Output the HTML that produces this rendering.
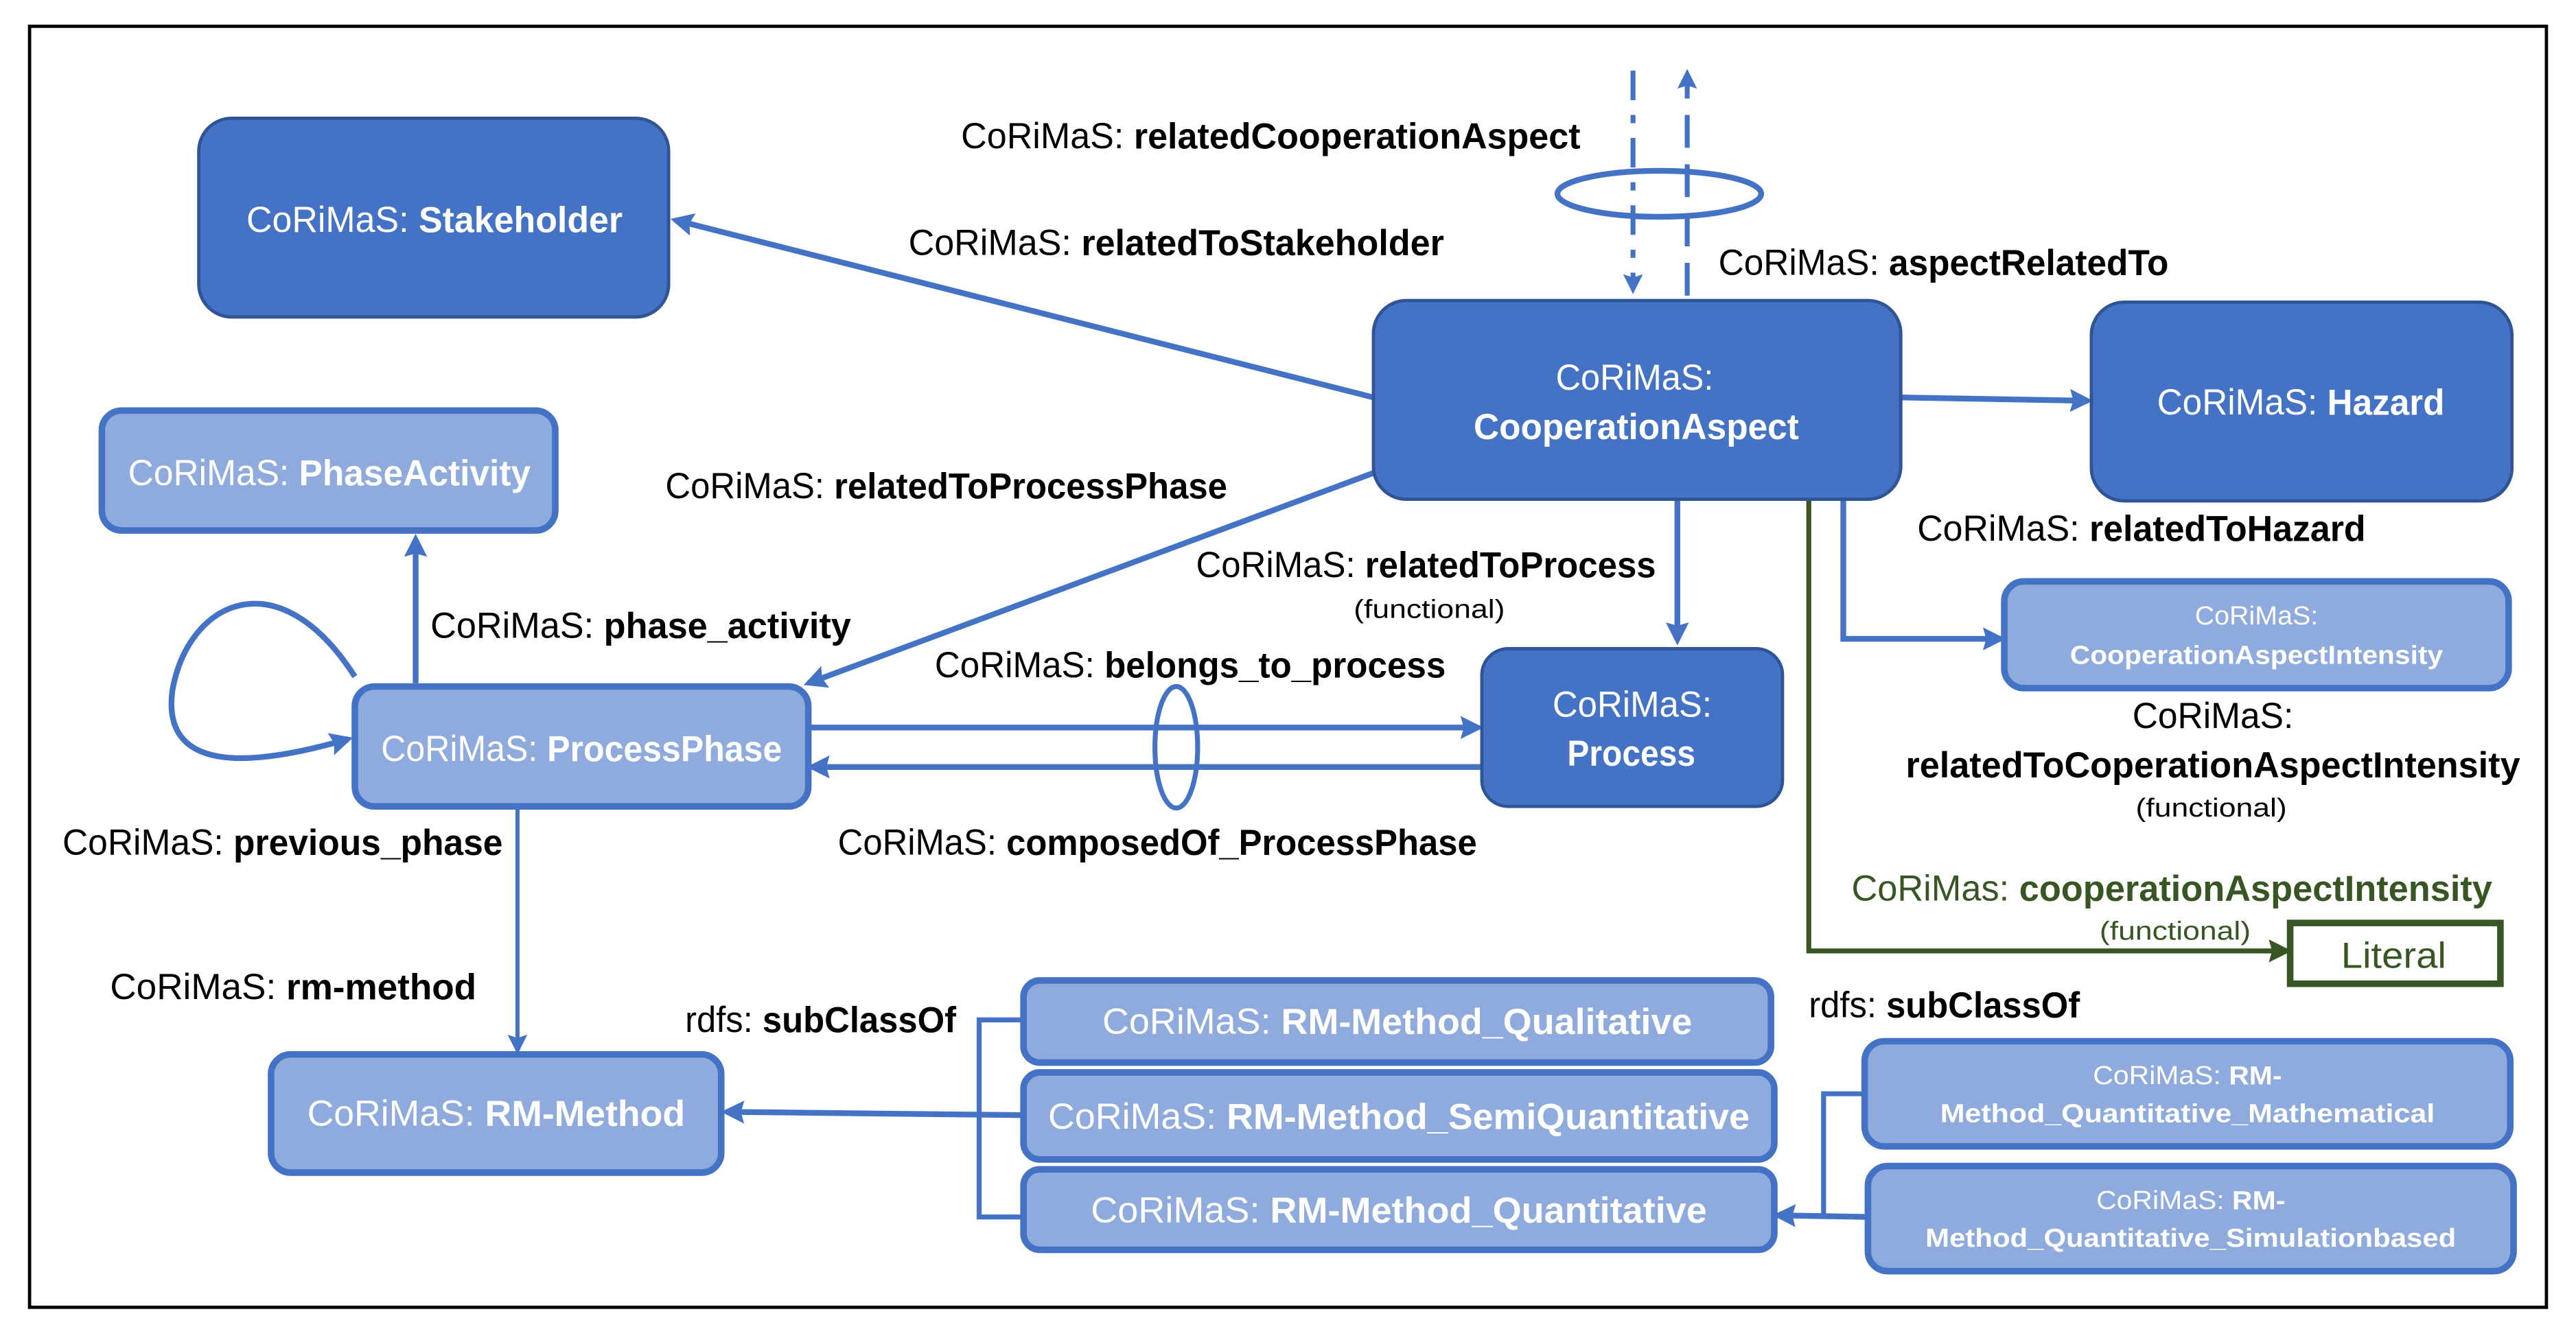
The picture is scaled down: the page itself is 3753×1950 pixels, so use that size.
<!DOCTYPE html>
<html><head><meta charset="utf-8"><style>
html,body{margin:0;padding:0;background:#fff}
svg{display:block}
text{font-family:"Liberation Sans",sans-serif;dominant-baseline:central}
.w{fill:#fff}
.k{fill:#000}
.b{font-weight:bold}
</style></head><body>
<svg width="3753" height="1950" viewBox="0 0 1568 814.7" preserveAspectRatio="none" xmlns="http://www.w3.org/2000/svg">
<defs>
<marker id="a" markerWidth="12" markerHeight="12" refX="9" refY="6" orient="auto" markerUnits="userSpaceOnUse" viewBox="0 0 12 12"><path d="M0,0 L12,6 L0,12 L2,6 z" fill="#4472C4"/></marker>
<marker id="a2" markerWidth="14" markerHeight="14" refX="11" refY="7" orient="auto" markerUnits="userSpaceOnUse" viewBox="0 0 14 14"><path d="M0,0 L14,7 L0,14 L2,7 z" fill="#4472C4"/></marker>
<marker id="g" markerWidth="14" markerHeight="14" refX="11" refY="7" orient="auto" markerUnits="userSpaceOnUse" viewBox="0 0 14 14"><path d="M0,0 L14,7 L0,14 L2,7 z" fill="#375623"/></marker>
</defs>
<rect x="0" y="0" width="1568" height="815" fill="#fff"/>
<rect x="18" y="16" width="1532" height="780" fill="none" stroke="#000" stroke-width="2"/>

<g stroke="#4472C4" stroke-width="3.5" fill="none">
<line x1="836" y1="242" x2="411" y2="134" marker-end="url(#a2)"/>
<line x1="836" y1="288" x2="492" y2="416" marker-end="url(#a2)"/>
<line x1="1157" y1="242" x2="1271" y2="244" marker-end="url(#a2)"/>
<line x1="1021" y1="305" x2="1021" y2="390" marker-end="url(#a2)"/>
<polyline points="1122,305 1122,389 1218,389" marker-end="url(#a2)"/>
<line x1="253" y1="416" x2="253" y2="328" marker-end="url(#a2)"/>
<path d="M216,412 C170,340 115,365 105,420 C98,470 150,468 212,450" marker-end="url(#a2)"/>
<line x1="492" y1="443" x2="900" y2="443" marker-end="url(#a2)"/>
<line x1="902" y1="467" x2="494" y2="467" marker-end="url(#a2)"/>
<ellipse cx="716" cy="455" rx="13" ry="37" stroke-width="3"/>
<line x1="315" y1="491" x2="315" y2="639" stroke-width="2.5" marker-end="url(#a)"/>
<line x1="623" y1="679" x2="442" y2="677" marker-end="url(#a2)"/>
<polyline points="623,621 596,621 596,741 623,741" stroke-width="3"/>
<polyline points="1135,666 1110,666 1110,741" stroke-width="3"/>
<line x1="1137" y1="741" x2="1082" y2="740" marker-end="url(#a2)"/>
<line x1="994" y1="43" x2="994" y2="176" stroke-width="3" stroke-dasharray="18,9,5,9" marker-end="url(#a)"/>
<line x1="1027" y1="180" x2="1027" y2="45" stroke-width="3" stroke-dasharray="20,10" marker-end="url(#a)"/>
<ellipse cx="1010" cy="118" rx="62" ry="14" stroke-width="3.5"/>
</g>
<polyline points="1101,305 1101,579 1392,579" fill="none" stroke="#375623" stroke-width="3" marker-end="url(#g)"/>

<g fill="#4472C4" stroke="#2F5597" stroke-width="2">
<rect x="121" y="72" width="286" height="121" rx="20"/>
<rect x="836" y="183" width="321" height="121" rx="20"/>
<rect x="1273" y="184" width="256" height="121" rx="20"/>
<rect x="902" y="395" width="183" height="96" rx="16"/>
</g>
<g fill="#8FAADC" stroke="#4472C4" stroke-width="4">
<rect x="62" y="250" width="276" height="73" rx="12"/>
<rect x="216" y="418" width="276" height="73" rx="12"/>
<rect x="1220" y="354" width="307" height="65" rx="12"/>
<rect x="165" y="642" width="274" height="72" rx="12"/>
<rect x="623" y="597" width="455" height="50" rx="10"/>
<rect x="623" y="653" width="457" height="53" rx="10"/>
<rect x="623" y="712" width="457" height="49" rx="10"/>
<rect x="1135" y="634" width="393" height="64" rx="12"/>
<rect x="1137" y="710" width="393" height="64" rx="12"/>
</g>
<rect x="1394" y="562" width="128" height="37" fill="#fff" stroke="#375623" stroke-width="4"/>

<g class="w" font-size="22" text-anchor="start">
<text x="150" y="134" textLength="229" lengthAdjust="spacingAndGlyphs">CoRiMaS: <tspan class="b">Stakeholder</tspan></text>
<text x="947" y="230" textLength="96" lengthAdjust="spacingAndGlyphs">CoRiMaS:</text>
<text x="897" y="260" class="b w" textLength="198" lengthAdjust="spacingAndGlyphs">CooperationAspect</text>
<text x="1313" y="245" textLength="175" lengthAdjust="spacingAndGlyphs">CoRiMaS: <tspan class="b">Hazard</tspan></text>
<text x="78" y="288" textLength="245" lengthAdjust="spacingAndGlyphs">CoRiMaS: <tspan class="b">PhaseActivity</tspan></text>
<text x="232" y="456" textLength="244" lengthAdjust="spacingAndGlyphs">CoRiMaS: <tspan class="b">ProcessPhase</tspan></text>
<text x="945" y="429" textLength="97" lengthAdjust="spacingAndGlyphs">CoRiMaS:</text>
<text x="954" y="459" class="b w" textLength="78" lengthAdjust="spacingAndGlyphs">Process</text>
<text x="187" y="678" textLength="230" lengthAdjust="spacingAndGlyphs">CoRiMaS: <tspan class="b">RM-Method</tspan></text>
<text x="671" y="622" textLength="359" lengthAdjust="spacingAndGlyphs">CoRiMaS: <tspan class="b">RM-Method_Qualitative</tspan></text>
<text x="638" y="680" textLength="427" lengthAdjust="spacingAndGlyphs">CoRiMaS: <tspan class="b">RM-Method_SemiQuantitative</tspan></text>
<text x="664" y="737" textLength="375" lengthAdjust="spacingAndGlyphs">CoRiMaS: <tspan class="b">RM-Method_Quantitative</tspan></text>
</g>
<g class="w" font-size="16">
<text x="1336" y="375" textLength="75" lengthAdjust="spacingAndGlyphs">CoRiMaS:</text>
<text x="1260" y="399" class="b w" textLength="227" lengthAdjust="spacingAndGlyphs">CooperationAspectIntensity</text>
<text x="1274" y="655" textLength="115" lengthAdjust="spacingAndGlyphs">CoRiMaS: <tspan class="b">RM-</tspan></text>
<text x="1181" y="678" class="b w" textLength="301" lengthAdjust="spacingAndGlyphs">Method_Quantitative_Mathematical</text>
<text x="1276" y="731" textLength="115" lengthAdjust="spacingAndGlyphs">CoRiMaS: <tspan class="b">RM-</tspan></text>
<text x="1172" y="754" class="b w" textLength="323" lengthAdjust="spacingAndGlyphs">Method_Quantitative_Simulationbased</text>
</g>
<text x="1425" y="582" font-size="22" fill="#375623" textLength="64" lengthAdjust="spacingAndGlyphs">Literal</text>

<g class="k" font-size="22">
<text x="585" y="83" textLength="377" lengthAdjust="spacingAndGlyphs">CoRiMaS: <tspan class="b">relatedCooperationAspect</tspan></text>
<text x="553" y="148" textLength="326" lengthAdjust="spacingAndGlyphs">CoRiMaS: <tspan class="b">relatedToStakeholder</tspan></text>
<text x="1046" y="160" textLength="274" lengthAdjust="spacingAndGlyphs">CoRiMaS: <tspan class="b">aspectRelatedTo</tspan></text>
<text x="405" y="296" textLength="342" lengthAdjust="spacingAndGlyphs">CoRiMaS: <tspan class="b">relatedToProcessPhase</tspan></text>
<text x="728" y="344" textLength="280" lengthAdjust="spacingAndGlyphs">CoRiMaS: <tspan class="b">relatedToProcess</tspan></text>
<text x="1167" y="322" textLength="273" lengthAdjust="spacingAndGlyphs">CoRiMaS: <tspan class="b">relatedToHazard</tspan></text>
<text x="262" y="381" textLength="256" lengthAdjust="spacingAndGlyphs">CoRiMaS: <tspan class="b">phase_activity</tspan></text>
<text x="569" y="405" textLength="311" lengthAdjust="spacingAndGlyphs">CoRiMaS: <tspan class="b">belongs_to_process</tspan></text>
<text x="510" y="513" textLength="389" lengthAdjust="spacingAndGlyphs">CoRiMaS: <tspan class="b">composedOf_ProcessPhase</tspan></text>
<text x="38" y="513" textLength="268" lengthAdjust="spacingAndGlyphs">CoRiMaS: <tspan class="b">previous_phase</tspan></text>
<text x="1298" y="436" textLength="98" lengthAdjust="spacingAndGlyphs">CoRiMaS:</text>
<text x="1160" y="466" class="b k" textLength="374" lengthAdjust="spacingAndGlyphs">relatedToCoperationAspectIntensity</text>
<text x="67" y="601" textLength="223" lengthAdjust="spacingAndGlyphs">CoRiMaS: <tspan class="b">rm-method</tspan></text>
<text x="417" y="621" textLength="165" lengthAdjust="spacingAndGlyphs">rdfs: <tspan class="b">subClassOf</tspan></text>
<text x="1101" y="612" textLength="165" lengthAdjust="spacingAndGlyphs">rdfs: <tspan class="b">subClassOf</tspan></text>
</g>
<g class="k" font-size="16">
<text x="824" y="371" textLength="92" lengthAdjust="spacingAndGlyphs">(functional)</text>
<text x="1300" y="492" textLength="92" lengthAdjust="spacingAndGlyphs">(functional)</text>
</g>
<text x="1127" y="541" font-size="22" fill="#375623" textLength="390" lengthAdjust="spacingAndGlyphs">CoRiMas: <tspan font-weight="bold">cooperationAspectIntensity</tspan></text>
<text x="1278" y="567" font-size="16" fill="#375623" textLength="92" lengthAdjust="spacingAndGlyphs">(functional)</text>
</svg>
</body></html>
